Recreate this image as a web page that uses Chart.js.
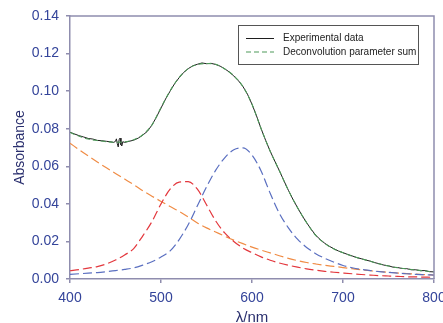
<!DOCTYPE html>
<html><head><meta charset="utf-8"><title>Absorbance spectrum</title>
<script src="https://cdn.jsdelivr.net/npm/chart.js@4"></script>
<style>html,body{margin:0;padding:0;background:#fff}</style>
</head><body>
<canvas id="chart" width="443" height="323"></canvas>
<script>
// wavelength grid for the fitted components (nm)
const fitNm = [400, 410, 420, 430, 440, 450, 460, 470, 480, 490, 500, 510, 520, 530, 540, 550, 560, 570, 580, 590, 600,
  610, 620, 630, 640, 650, 660, 670, 680, 690, 700, 710, 720, 730, 740, 750, 760, 770, 780, 790, 800];
const redBand = [0.0044, 0.0050, 0.0058, 0.0066, 0.0080, 0.0101, 0.0128, 0.0162, 0.0230, 0.0305, 0.0400, 0.0478, 0.0516, 0.0518, 0.0478, 0.0395, 0.0310, 0.0245, 0.0200, 0.0165, 0.0140,
  0.0118, 0.0100, 0.0085, 0.0073, 0.0063, 0.0054, 0.0047, 0.0041, 0.0036, 0.0032, 0.0028, 0.0024, 0.0021, 0.0018, 0.0016, 0.0014, 0.0012, 0.0011, 0.0010, 0.0009];
const blueBand = [0.0025, 0.0028, 0.0031, 0.0034, 0.0039, 0.0045, 0.0051, 0.0059, 0.0074, 0.0092, 0.0117, 0.0150, 0.0210, 0.0290, 0.0390, 0.0490, 0.0578, 0.0645, 0.0688, 0.0698, 0.0660,
  0.0575, 0.0456, 0.0350, 0.0272, 0.0212, 0.0168, 0.0135, 0.0110, 0.0090, 0.0072, 0.0060, 0.0051, 0.0045, 0.0039, 0.0035, 0.0031, 0.0028, 0.0025, 0.0023, 0.0021];
const background = [0.0723, 0.0688, 0.0655, 0.0623, 0.0592, 0.0562, 0.0532, 0.0502, 0.0470, 0.0441, 0.0413, 0.0386, 0.0360, 0.0330, 0.0298, 0.0272, 0.0250, 0.0228, 0.0207, 0.0188, 0.0170,
  0.0154, 0.0139, 0.0124, 0.0110, 0.0098, 0.0088, 0.0080, 0.0073, 0.0067, 0.0061, 0.0055, 0.0049, 0.0044, 0.0040, 0.0036, 0.0032, 0.0029, 0.0026, 0.0023, 0.0021];
const paramSum = [0.0780, 0.0760, 0.0745, 0.0737, 0.0731, 0.0728, 0.0730, 0.0741, 0.0768, 0.0820, 0.0912, 0.1002, 0.1073, 0.1120, 0.1142, 0.1147, 0.1143, 0.1118, 0.1082, 0.1025, 0.0930,
  0.0800, 0.0680, 0.0577, 0.0472, 0.0380, 0.0300, 0.0232, 0.0189, 0.0160, 0.0140, 0.0122, 0.0108, 0.0094, 0.0080, 0.0069, 0.0060, 0.0054, 0.0048, 0.0043, 0.0038];

// measured spectrum (irregular spacing around the glitch near 453 nm)
const expNm = [400, 405, 410, 415, 420, 425, 430, 435, 440, 445, 448, 450, 451, 452, 453, 454, 455, 456, 457, 458, 460, 465, 470, 475, 480, 485, 490, 495,
  500, 505, 510, 515, 520, 525, 530, 535, 540, 545, 550, 555, 560, 565, 570, 575, 580, 585, 590, 595, 600, 605, 610, 615, 620, 625, 630, 635, 640, 645,
  650, 655, 660, 665, 670, 675, 680, 685, 690, 695, 700, 705, 710, 715, 720, 725, 730, 735, 740, 745, 750, 755, 760, 765, 770, 775, 780, 785, 790, 795, 800];
const expAbs = [0.0781, 0.0772, 0.0763, 0.0756, 0.0748, 0.0745, 0.0738, 0.0736, 0.0733, 0.0730, 0.0727, 0.0733, 0.0746, 0.0720, 0.0703, 0.0742, 0.0750, 0.0714, 0.0708, 0.0731, 0.0727, 0.0733, 0.0739, 0.0750, 0.0766, 0.0786, 0.0819, 0.0862,
  0.0910, 0.0958, 0.1000, 0.1040, 0.1072, 0.1100, 0.1120, 0.1135, 0.1143, 0.1150, 0.1146, 0.1148, 0.1142, 0.1133, 0.1119, 0.1102, 0.1081, 0.1056, 0.1025, 0.0984, 0.0930, 0.0868, 0.0800, 0.0738, 0.0680, 0.0628, 0.0577, 0.0524, 0.0472, 0.0424,
  0.0380, 0.0338, 0.0300, 0.0265, 0.0233, 0.0210, 0.0190, 0.0174, 0.0161, 0.0149, 0.0140, 0.0131, 0.0123, 0.0114, 0.0108, 0.0101, 0.0095, 0.0087, 0.0081, 0.0074, 0.0070, 0.0063, 0.0061, 0.0056, 0.0055, 0.0049, 0.0049, 0.0044, 0.0045, 0.0039, 0.0038];

const xTicks = [400, 500, 600, 700, 800];
const yTicks = [0, 0.02, 0.04, 0.06, 0.08, 0.10, 0.12, 0.14];

const axisColor = '#8f8dae';
const tickColor = '#34449a';
const titleColor = '#2a2f6e';
const font = '"Liberation Sans", Arial, sans-serif';

const pts = (xs, ys) => xs.map((x, i) => ({ x, y: ys[i] }));

// box legend in the top-right corner, only the first two series
const boxLegend = {
  id: 'boxLegend',
  afterDraw(chart) {
    const { ctx, chartArea } = chart;
    const x = chartArea.right - 196, y = chartArea.top + 9, w = 180, h = 39;
    ctx.save();
    ctx.fillStyle = '#fff';
    ctx.fillRect(x, y, w, h);
    ctx.strokeStyle = '#555';
    ctx.lineWidth = 1;
    ctx.strokeRect(x + 0.5, y + 0.5, w, h);
    ctx.font = '10px ' + font;
    ctx.textBaseline = 'middle';
    chart.data.datasets.slice(0, 2).forEach((ds, i) => {
      const ly = y + 13.5 + i * 13.5;
      ctx.beginPath();
      ctx.setLineDash(ds.borderDash || []);
      ctx.strokeStyle = ds.borderColor;
      ctx.lineWidth = ds.borderWidth;
      ctx.moveTo(x + 8, ly);
      ctx.lineTo(x + 36, ly);
      ctx.stroke();
      ctx.setLineDash([]);
      ctx.fillStyle = '#222';
      ctx.fillText(ds.label, x + 45, ly);
    });
    ctx.restore();
  }
};

// top and right edges of the frame
const frame = {
  id: 'frame',
  afterDatasetsDraw(chart) {
    const { ctx, chartArea: a } = chart;
    ctx.save();
    ctx.strokeStyle = axisColor;
    ctx.lineWidth = 1.5;
    ctx.beginPath();
    ctx.moveTo(a.left, a.top);
    ctx.lineTo(a.right, a.top);
    ctx.lineTo(a.right, a.bottom);
    ctx.stroke();
    ctx.restore();
  }
};

new Chart(document.getElementById('chart'), {
  type: 'line',
  data: {
    datasets: [
      { label: 'Experimental data', data: pts(expNm, expAbs), borderColor: '#1e1e1e', borderWidth: 1, order: 1 },
      { label: 'Deconvolution parameter sum', data: pts(fitNm, paramSum), borderColor: '#4f9a5a', borderWidth: 1.1, borderDash: [5, 3], order: 0, cubicInterpolationMode: 'monotone' },
      { label: 'band 1', data: pts(fitNm, redBand), borderColor: '#e3373d', borderWidth: 1.2, borderDash: [9, 4], order: 2, cubicInterpolationMode: 'monotone' },
      { label: 'band 2', data: pts(fitNm, blueBand), borderColor: '#5a6fc0', borderWidth: 1.2, borderDash: [9, 4], order: 3, cubicInterpolationMode: 'monotone' },
      { label: 'scattering', data: pts(fitNm, background), borderColor: '#f08c45', borderWidth: 1.2, borderDash: [9, 4], order: 4, cubicInterpolationMode: 'monotone' }
    ]
  },
  options: {
    responsive: false,
    animation: false,
    devicePixelRatio: 1,
    layout: { padding: { top: 16, right: 9, left: 0, bottom: 0 } },
    elements: { point: { radius: 0 } },
    plugins: { legend: { display: false }, tooltip: { enabled: false } },
    scales: {
      x: {
        type: 'linear', min: 400, max: 800,
        afterBuildTicks: s => { s.ticks = xTicks.map(v => ({ value: v })); },
        afterFit: s => { s.height = 44; s.paddingLeft = 0; s.paddingRight = 0; },
        ticks: { color: tickColor, font: { family: font, size: 14 }, padding: 7, maxRotation: 0 },
        grid: { drawOnChartArea: false, tickLength: 4, color: axisColor, lineWidth: 1.5 },
        border: { color: axisColor, width: 1.5 },
        title: { display: true, text: 'λ/nm', color: titleColor, font: { family: font, size: 15, lineHeight: 0.75 }, padding: { top: 0, bottom: 0 } }
      },
      y: {
        min: 0, max: 0.14,
        afterBuildTicks: s => { s.ticks = yTicks.map(v => ({ value: v })); },
        afterFit: s => { s.width = 70; s.paddingTop = 0; s.paddingBottom = 0; },
        ticks: { color: tickColor, font: { family: font, size: 14 }, padding: 7, callback: v => v.toFixed(2) },
        grid: { drawOnChartArea: false, tickLength: 4, color: axisColor, lineWidth: 1.5 },
        border: { color: axisColor, width: 1.5 },
        title: { display: true, text: 'Absorbance', color: titleColor, font: { family: font, size: 14 }, padding: { top: 12, bottom: 0 } }
      }
    }
  },
  plugins: [frame, boxLegend]
});
</script>
</body></html>
